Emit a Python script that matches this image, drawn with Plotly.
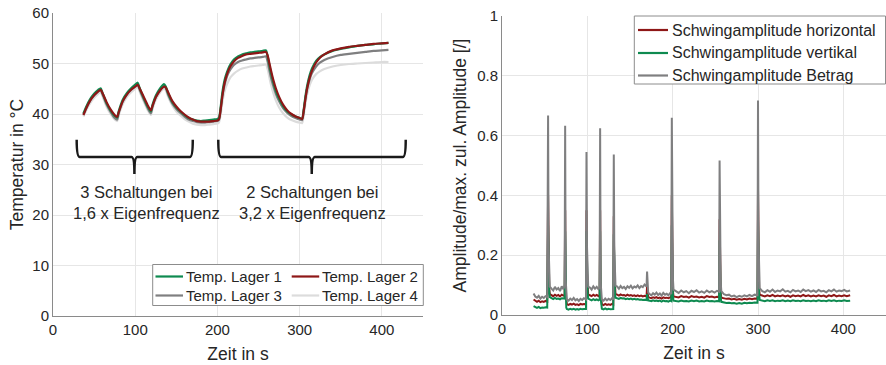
import plotly.graph_objects as go

# ---------------- Left chart: temperatures ----------------
t_temp = [37, 40, 45, 50, 55, 58, 60, 65, 70, 75, 78, 80, 85, 90, 95, 100, 103, 105, 110, 115,
          119, 121, 125, 130, 135, 137, 140, 145, 150, 155, 160, 165, 170, 175, 180, 185, 190, 195, 200, 202,
          204, 206, 208, 210, 213, 216, 220, 225, 230, 235, 240, 245, 250, 255, 259, 261, 263, 265, 268, 271,
          275, 280, 285, 290, 295, 300, 303, 305, 307, 309, 312, 315, 320, 325, 330, 340, 350, 360, 370, 380,
          390, 400, 408]

temp_lager1 = [40.1, 41.3, 42.9, 44.0, 44.8, 45.1, 44.3, 42.2, 40.7, 39.6, 39.3, 40.6, 42.9, 44.2, 45.1, 45.8, 46.2, 45.3, 43.3, 41.5,
               40.5, 41.8, 43.6, 45.0, 45.9, 45.5, 44.1, 42.4, 41.3, 40.5, 39.8, 39.2, 38.9, 38.7, 38.6, 38.7, 38.8, 38.9, 39.0, 39.3,
               41.5, 44.3, 46.2, 47.5, 48.9, 49.9, 50.8, 51.4, 51.8, 52.0, 52.2, 52.3, 52.4, 52.5, 52.6, 51.5, 49.8, 48.2, 46.2, 44.6,
               43.0, 41.5, 40.5, 39.9, 39.5, 39.2, 39.1, 41.0, 43.5, 45.5, 47.6, 49.0, 50.5, 51.3, 51.8, 52.5, 52.9, 53.2, 53.5, 53.7,
               53.8, 54.0, 54.1]

temp_lager2 = [39.8, 41.0, 42.6, 43.7, 44.5, 44.8, 44.2, 42.4, 40.9, 39.8, 39.4, 40.4, 42.6, 43.9, 44.8, 45.4, 45.8, 45.2, 43.5, 41.8,
               40.7, 41.6, 43.3, 44.6, 45.4, 45.3, 44.3, 42.6, 41.5, 40.6, 39.9, 39.3, 38.9, 38.6, 38.5, 38.5, 38.5, 38.6, 38.7, 39.0,
               41.0, 43.6, 45.6, 47.0, 48.5, 49.5, 50.4, 51.1, 51.5, 51.8, 51.9, 52.0, 52.1, 52.2, 52.3, 51.6, 50.2, 48.7, 46.7, 45.1,
               43.4, 41.8, 40.7, 40.0, 39.5, 39.2, 39.0, 40.7, 43.0, 45.0, 47.1, 48.6, 50.2, 51.2, 51.8, 52.6, 53.0, 53.3, 53.5, 53.7,
               53.9, 54.0, 54.1]

temp_lager3 = [39.9, 41.0, 42.6, 43.7, 44.5, 44.8, 44.0, 41.9, 40.4, 39.2, 38.9, 40.2, 42.5, 43.9, 44.8, 45.5, 45.9, 45.0, 43.0, 41.2,
               40.1, 41.4, 43.3, 44.7, 45.6, 45.2, 43.8, 42.1, 41.0, 40.2, 39.5, 38.9, 38.6, 38.4, 38.3, 38.3, 38.4, 38.5, 38.6, 38.9,
               40.9, 43.5, 45.3, 46.6, 48.0, 48.9, 49.7, 50.3, 50.6, 50.8, 51.0, 51.1, 51.2, 51.3, 51.4, 50.4, 48.8, 47.3, 45.5, 44.0,
               42.5, 41.1, 40.2, 39.6, 39.2, 38.9, 38.8, 40.6, 43.0, 44.9, 46.8, 48.1, 49.4, 50.2, 50.7, 51.3, 51.7, 51.9, 52.1, 52.3,
               52.5, 52.6, 52.7]

temp_lager4 = [39.5, 40.6, 42.1, 43.2, 44.0, 44.3, 43.6, 41.5, 40.0, 38.9, 38.6, 39.8, 42.0, 43.4, 44.3, 45.0, 45.4, 44.6, 42.6, 40.8,
               39.8, 41.0, 42.8, 44.2, 45.0, 44.7, 43.4, 41.7, 40.5, 39.7, 39.0, 38.5, 38.1, 37.9, 37.8, 37.8, 37.9, 38.0, 38.1, 38.4,
               40.0, 42.3, 44.0, 45.2, 46.4, 47.3, 48.0, 48.6, 49.0, 49.2, 49.4, 49.5, 49.6, 49.7, 49.8, 48.9, 47.4, 45.9, 44.1, 42.7,
               41.3, 40.1, 39.3, 38.8, 38.5, 38.3, 38.2, 39.8, 42.0, 43.8, 45.6, 46.8, 47.9, 48.5, 48.9, 49.4, 49.7, 49.9, 50.0, 50.1,
               50.2, 50.3, 50.3]

temp_names = ["Temp. Lager 1", "Temp. Lager 2", "Temp. Lager 3", "Temp. Lager 4"]

# ---------------- Right chart: vibration amplitudes ----------------
t_vib = [37, 39, 41, 43, 45, 47, 49, 51, 53,
         54, 54.6, 55.3, 56,
         58, 60, 62, 64, 66, 68, 70, 72, 73.4,
         74, 74.6, 75.3,
         76, 78, 80, 82, 84, 86, 88, 90, 92, 94, 96, 98.4,
         99, 99.6, 100.3, 101,
         103, 105, 107, 109, 111, 113, 114.4,
         115, 115.6, 116.3,
         117, 119, 121, 123, 125, 127, 129, 130.4,
         131, 131.6, 132.3, 133,
         135, 137, 139, 141, 143, 145, 147, 149, 151, 153, 155, 157, 159, 161, 163, 165, 167, 169.4,
         170, 170.6, 171.3,
         173, 175, 177, 179, 181, 183, 185, 187, 189, 191, 193, 195, 197, 198.4,
         199, 199.6, 200.3, 201,
         204, 207, 210, 213, 216, 219, 222, 225, 228, 231, 234, 237, 240, 243, 246, 249, 252, 254.4,
         255, 255.6, 256.3, 257,
         260, 263, 266, 269, 272, 275, 278, 281, 284, 287, 290, 293, 296, 299.4,
         300, 300.6, 301.3, 302,
         305, 308, 311, 314, 317, 320, 323, 326, 329, 332, 335, 338, 341, 344, 347, 350, 353, 356, 359, 362,
         365, 368, 371, 374, 377, 380, 383, 386, 389, 392, 395, 398, 401, 404, 408]

amp_horizontal = [0.052, 0.047, 0.044, 0.048, 0.043, 0.046, 0.044, 0.047, 0.045,
                  0.40, 0.15, 0.090, 0.070,
                  0.066, 0.063, 0.068, 0.064, 0.067, 0.062, 0.068, 0.065, 0.067,
                  0.35, 0.070, 0.040,
                  0.036, 0.034, 0.037, 0.035, 0.038, 0.034, 0.036, 0.033, 0.037, 0.035, 0.037, 0.036,
                  0.35, 0.14, 0.085, 0.068,
                  0.066, 0.063, 0.068, 0.064, 0.067, 0.063, 0.065,
                  0.35, 0.070, 0.040,
                  0.036, 0.033, 0.037, 0.034, 0.036, 0.034, 0.037, 0.035,
                  0.33, 0.14, 0.085, 0.070,
                  0.068, 0.065, 0.069, 0.066, 0.067, 0.064, 0.068, 0.065, 0.067, 0.064, 0.066, 0.063, 0.066, 0.063, 0.065, 0.062, 0.064, 0.062,
                  0.095, 0.068, 0.060,
                  0.058, 0.056, 0.059, 0.057, 0.060, 0.056, 0.058, 0.055, 0.059, 0.057, 0.058, 0.056, 0.059, 0.057,
                  0.40, 0.14, 0.080, 0.062,
                  0.061, 0.059, 0.063, 0.060, 0.062, 0.058, 0.063, 0.060, 0.062, 0.059, 0.061, 0.058, 0.063, 0.060, 0.062, 0.059, 0.061, 0.060,
                  0.32, 0.12, 0.075, 0.058,
                  0.056, 0.054, 0.055, 0.052, 0.054, 0.051, 0.053, 0.051, 0.054, 0.052, 0.055, 0.053, 0.055, 0.054,
                  0.42, 0.15, 0.085, 0.068,
                  0.065, 0.062, 0.066, 0.063, 0.067, 0.062, 0.065, 0.063, 0.066, 0.062, 0.065, 0.061, 0.066, 0.063, 0.065, 0.062, 0.067, 0.063, 0.066, 0.062,
                  0.065, 0.062, 0.066, 0.063, 0.065, 0.061, 0.066, 0.063, 0.067, 0.062, 0.065, 0.063, 0.066, 0.063, 0.066]

amp_vertikal = [0.030, 0.026, 0.024, 0.027, 0.023, 0.025, 0.024, 0.026, 0.025,
                0.30, 0.13, 0.080, 0.060,
                0.056, 0.053, 0.057, 0.054, 0.055, 0.052, 0.056, 0.054, 0.055,
                0.28, 0.060, 0.025,
                0.020, 0.018, 0.021, 0.019, 0.021, 0.018, 0.020, 0.018, 0.021, 0.019, 0.020, 0.020,
                0.28, 0.12, 0.075, 0.055,
                0.052, 0.049, 0.053, 0.050, 0.052, 0.049, 0.051,
                0.28, 0.060, 0.025,
                0.021, 0.019, 0.022, 0.019, 0.021, 0.019, 0.021, 0.020,
                0.27, 0.12, 0.075, 0.058,
                0.056, 0.054, 0.057, 0.055, 0.056, 0.053, 0.055, 0.053, 0.055, 0.052, 0.054, 0.052, 0.053, 0.051, 0.052, 0.050, 0.051, 0.050,
                0.070, 0.055, 0.049,
                0.048, 0.046, 0.049, 0.047, 0.048, 0.046, 0.048, 0.045, 0.048, 0.046, 0.047, 0.045, 0.048, 0.046,
                0.30, 0.12, 0.065, 0.048,
                0.047, 0.045, 0.048, 0.046, 0.047, 0.045, 0.048, 0.046, 0.048, 0.045, 0.047, 0.045, 0.048, 0.046, 0.047, 0.045, 0.047, 0.046,
                0.25, 0.10, 0.060, 0.044,
                0.042, 0.040, 0.041, 0.039, 0.040, 0.038, 0.040, 0.038, 0.041, 0.039, 0.041, 0.040, 0.042, 0.041,
                0.32, 0.13, 0.070, 0.050,
                0.048, 0.046, 0.049, 0.047, 0.049, 0.046, 0.048, 0.047, 0.049, 0.046, 0.048, 0.046, 0.049, 0.047, 0.048, 0.046, 0.049, 0.047, 0.048, 0.046,
                0.048, 0.046, 0.049, 0.047, 0.048, 0.046, 0.049, 0.047, 0.049, 0.046, 0.048, 0.047, 0.049, 0.047, 0.048]

amp_betrag = [0.072, 0.062, 0.058, 0.064, 0.055, 0.061, 0.057, 0.063, 0.060,
              0.667, 0.230, 0.140, 0.095,
              0.088, 0.082, 0.094, 0.085, 0.090, 0.080, 0.096, 0.086, 0.100,
              0.633, 0.120, 0.060,
              0.052, 0.048, 0.055, 0.050, 0.057, 0.049, 0.053, 0.047, 0.054, 0.050, 0.056, 0.052,
              0.545, 0.230, 0.130, 0.095,
              0.092, 0.085, 0.096, 0.088, 0.094, 0.086, 0.090,
              0.625, 0.110, 0.060,
              0.052, 0.048, 0.055, 0.049, 0.054, 0.050, 0.056, 0.052,
              0.537, 0.220, 0.130, 0.098,
              0.095, 0.088, 0.097, 0.090, 0.094, 0.087, 0.096, 0.091, 0.098, 0.089, 0.095, 0.092, 0.099, 0.090, 0.097, 0.093, 0.102, 0.095,
              0.145, 0.095, 0.075,
              0.070, 0.066, 0.073, 0.068, 0.075, 0.067, 0.072, 0.065, 0.074, 0.068, 0.071, 0.066, 0.073, 0.070,
              0.660, 0.235, 0.120, 0.085,
              0.078, 0.074, 0.082, 0.076, 0.080, 0.073, 0.081, 0.077, 0.083, 0.075, 0.079, 0.074, 0.082, 0.076, 0.080, 0.075, 0.081, 0.078,
              0.517, 0.200, 0.110, 0.080,
              0.070, 0.066, 0.068, 0.062, 0.065, 0.060, 0.064, 0.061, 0.066, 0.062, 0.067, 0.063, 0.068, 0.066,
              0.717, 0.250, 0.130, 0.090,
              0.080, 0.076, 0.083, 0.078, 0.085, 0.077, 0.082, 0.079, 0.086, 0.078, 0.081, 0.076, 0.084, 0.079, 0.082, 0.077, 0.085, 0.080, 0.083, 0.078,
              0.082, 0.077, 0.084, 0.079, 0.081, 0.076, 0.083, 0.079, 0.085, 0.078, 0.082, 0.080, 0.084, 0.079, 0.082]

vib_names = ["Schwingamplitude horizontal", "Schwingamplitude vertikal", "Schwingamplitude Betrag"]

x_ticks = [0, 100, 200, 300, 400]

for arr in (amp_horizontal, amp_vertikal, amp_betrag):
    assert len(arr) == len(t_vib), (len(arr), len(t_vib))
for arr in (temp_lager1, temp_lager2, temp_lager3, temp_lager4):
    assert len(arr) == len(t_temp), (len(arr), len(t_temp))

GREEN = "#0e8a50"
RED = "#8e1717"
GRAY = "#7f7f80"
LIGHT = "#dcdcdc"
FONT = "Liberation Sans, Arial, sans-serif"
TXT = "#262626"

W, H = 886, 365


def px(x):
    return x / W


def py(y):
    return 1 - y / H


fig = go.Figure()

left_series = [(temp_lager1, GREEN), (temp_lager2, RED), (temp_lager3, GRAY), (temp_lager4, LIGHT)]
for i in [3, 2, 0, 1]:
    vals, col = left_series[i]
    fig.add_trace(go.Scatter(x=t_temp, y=vals, mode="lines", name=temp_names[i],
                             line=dict(color=col, width=2.2, shape="spline", smoothing=0.6),
                             xaxis="x", yaxis="y", showlegend=False))

right_series = [(amp_horizontal, RED), (amp_vertikal, GREEN), (amp_betrag, GRAY)]
for (vals, col), nm in zip(right_series, vib_names):
    fig.add_trace(go.Scatter(x=t_vib, y=vals, mode="lines", name=nm,
                             line=dict(color=col, width=2),
                             xaxis="x2", yaxis="y2", showlegend=False))

axis_common = dict(showgrid=True, gridcolor="#e6e6e6", gridwidth=1,
                   showline=True, linecolor="#8a8a8a", linewidth=1,
                   zeroline=False, ticks="", tickfont=dict(size=15, color=TXT, family=FONT),
                   mirror=False)

fig.update_layout(
    width=W, height=H,
    margin=dict(l=0, r=0, t=0, b=0, autoexpand=False),
    paper_bgcolor="white", plot_bgcolor="white",
    font=dict(family=FONT, color=TXT),
    showlegend=False,
    xaxis=dict(domain=[px(53), px(423)], range=[0, 450], tickvals=x_ticks,
               title=dict(text="Zeit in s", font=dict(size=17.5, color=TXT), standoff=10),
               anchor="y", **axis_common),
    yaxis=dict(domain=[py(316), py(13)], range=[0, 60], dtick=10,
               title=dict(text="Temperatur in °C", font=dict(size=17.5, color=TXT), standoff=4),
               anchor="x", **axis_common),
    xaxis2=dict(domain=[px(502), 1.0], range=[0, 450], tickvals=x_ticks,
                title=dict(text="Zeit in s", font=dict(size=17.5, color=TXT), standoff=10),
                anchor="y2", **axis_common),
    yaxis2=dict(domain=[py(315), py(16)], range=[0, 1], dtick=0.2,
                title=dict(text="Amplitude/max. zul. Amplitude [/]", font=dict(size=17.5, color=TXT), standoff=6),
                anchor="x2", **axis_common),
)

# curly braces (data coordinates of the left chart)
brace_style = dict(type="path", xref="x", yref="y", line=dict(color="#1a1a1a", width=2.5))
fig.add_shape(path="M 28.8,34.9 Q 28.8,31.5 32.5,31.5 L 95.5,31.5 Q 99,31.5 99,28.1 "
                   "Q 99,31.5 102.5,31.5 L 166.5,31.5 Q 170,31.5 170,34.9", **brace_style)
fig.add_shape(path="M 201,34.9 Q 201,31.5 204.5,31.5 L 311,31.5 Q 314.7,31.5 314.7,28.1 "
                   "Q 314.7,31.5 318.5,31.5 L 425.5,31.5 Q 429,31.5 429,34.9", **brace_style)

fig.add_annotation(x=114, y=22.4, xref="x", yref="y", showarrow=False,
                   text="3 Schaltungen bei<br>1,6 x Eigenfrequenz",
                   font=dict(size=16.5, color=TXT, family=FONT), align="center")
fig.add_annotation(x=316, y=22.4, xref="x", yref="y", showarrow=False,
                   text="2 Schaltungen bei<br>3,2 x Eigenfrequenz",
                   font=dict(size=16.5, color=TXT, family=FONT), align="center")

# ---- legend boxes drawn as shapes + text ----
BOX = dict(type="rect", xref="paper", yref="paper", line=dict(color="#8c8c8c", width=1),
           fillcolor="white", layer="above")

fig.add_shape(x0=px(152.7), x1=px(423.3), y0=py(305.5), y1=py(264.5), **BOX)
left_entries = [(0, 155.5, 276.5), (1, 291.7, 276.5), (2, 155.5, 295.5), (3, 291.7, 295.5)]
for idx, lx, ly in left_entries:
    fig.add_shape(type="line", xref="paper", yref="paper", x0=px(lx), x1=px(lx + 27.5),
                  y0=py(ly), y1=py(ly), line=dict(color=left_series[idx][1], width=2.2), layer="above")
    fig.add_annotation(x=px(lx + 28.5), y=py(ly), xref="paper", yref="paper", showarrow=False,
                       xanchor="left", yanchor="middle", text=temp_names[idx],
                       font=dict(size=15, color=TXT, family=FONT))

fig.add_shape(x0=px(634.3), x1=px(885.5), y0=py(84), y1=py(16), **BOX)
for (vals, col), nm, ly in zip(right_series, vib_names, [30, 53, 75.5]):
    fig.add_shape(type="line", xref="paper", yref="paper", x0=px(638), x1=px(668),
                  y0=py(ly), y1=py(ly), line=dict(color=col, width=2.2), layer="above")
    fig.add_annotation(x=px(669.5), y=py(ly), xref="paper", yref="paper", showarrow=False,
                       xanchor="left", yanchor="middle", text=nm,
                       font=dict(size=16, color=TXT, family=FONT))

fig.write_html("out.html", config={"displayModeBar": False},
               post_script="document.body.style.margin='0px';document.body.style.padding='0px';")
